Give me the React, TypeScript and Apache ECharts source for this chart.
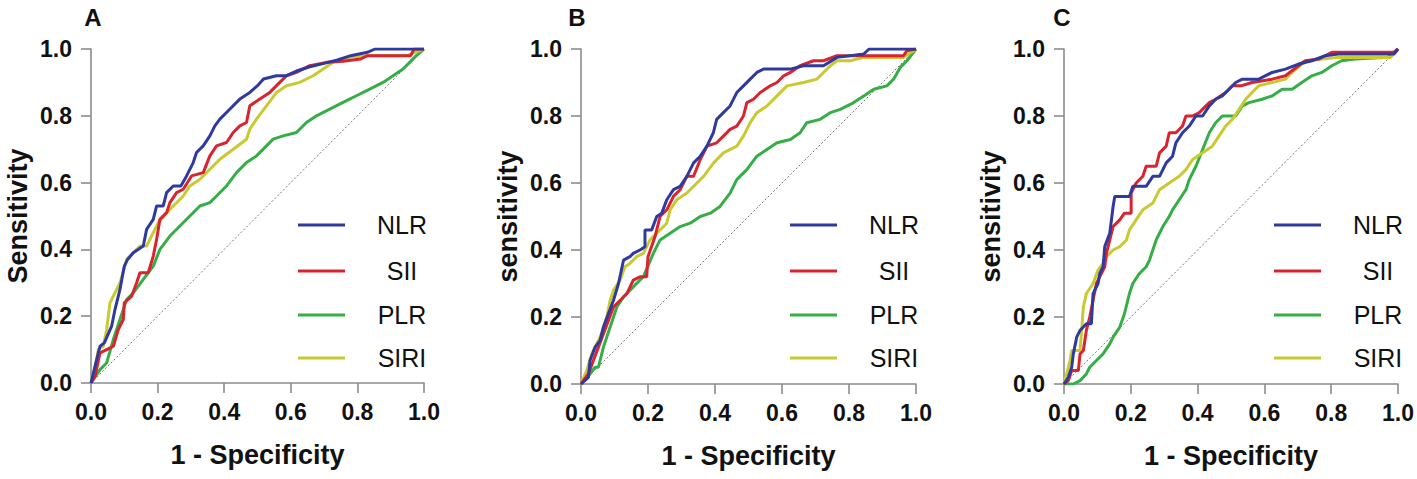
import React, { useEffect, useRef } from "react";
import * as echarts from "echarts";

const panelLetters = ["A", "B", "C"];
const yAxisTitles = ["Sensitivity", "sensitivity", "sensitivity"];
const xAxisTitle = "1 - Specificity";
const seriesNames = ["NLR", "SII", "PLR", "SIRI"];
const seriesColors = ["#2f3a9e", "#d9232f", "#35ae47", "#c9c931"];
const diagonal = [[0, 0], [1, 1]];

// Panel A
const nlrA = [[0,0],[0.017,0.07],[0.027,0.11],[0.04,0.12],[0.062,0.17],[0.072,0.22],[0.087,0.28],[0.1,0.35],[0.11,0.37],[0.127,0.39],[0.157,0.41],[0.167,0.46],[0.187,0.49],[0.197,0.53],[0.217,0.53],[0.227,0.57],[0.247,0.59],[0.27,0.59],[0.287,0.62],[0.307,0.66],[0.317,0.69],[0.337,0.71],[0.357,0.74],[0.372,0.77],[0.387,0.79],[0.407,0.81],[0.427,0.83],[0.447,0.85],[0.477,0.87],[0.5,0.89],[0.518,0.91],[0.557,0.92],[0.587,0.92],[0.617,0.934],[0.657,0.947],[0.7,0.957],[0.74,0.967],[0.78,0.98],[0.83,0.99],[0.853,1.0],[1,1]];
const siiA = [[0,0],[0.012,0.02],[0.027,0.09],[0.047,0.1],[0.067,0.11],[0.082,0.16],[0.097,0.19],[0.1,0.24],[0.122,0.26],[0.137,0.3],[0.147,0.33],[0.172,0.33],[0.187,0.38],[0.197,0.43],[0.207,0.49],[0.227,0.51],[0.237,0.54],[0.257,0.57],[0.277,0.58],[0.302,0.62],[0.337,0.63],[0.357,0.68],[0.377,0.71],[0.407,0.72],[0.427,0.75],[0.447,0.77],[0.467,0.78],[0.477,0.83],[0.507,0.85],[0.537,0.87],[0.567,0.9],[0.587,0.92],[0.617,0.93],[0.657,0.95],[0.707,0.96],[0.757,0.963],[0.81,0.97],[0.83,0.98],[0.96,0.98],[0.97,1.0],[1,1]];
const plrA = [[0,0],[0.027,0.04],[0.047,0.06],[0.067,0.13],[0.087,0.19],[0.107,0.25],[0.127,0.27],[0.157,0.31],[0.187,0.35],[0.207,0.4],[0.237,0.44],[0.267,0.47],[0.297,0.5],[0.327,0.53],[0.357,0.54],[0.377,0.56],[0.407,0.59],[0.437,0.63],[0.467,0.66],[0.497,0.68],[0.527,0.71],[0.547,0.73],[0.577,0.74],[0.617,0.75],[0.647,0.78],[0.677,0.8],[0.717,0.82],[0.757,0.84],[0.797,0.86],[0.837,0.88],[0.877,0.9],[0.907,0.92],[0.937,0.94],[0.957,0.96],[0.977,0.98],[1,1]];
const siriA = [[0,0],[0.017,0.07],[0.022,0.1],[0.037,0.11],[0.047,0.16],[0.057,0.24],[0.072,0.27],[0.087,0.3],[0.102,0.35],[0.107,0.37],[0.127,0.39],[0.147,0.41],[0.167,0.41],[0.187,0.45],[0.202,0.48],[0.227,0.51],[0.247,0.53],[0.277,0.56],[0.297,0.59],[0.327,0.61],[0.357,0.64],[0.387,0.67],[0.427,0.7],[0.467,0.73],[0.477,0.76],[0.497,0.79],[0.527,0.83],[0.557,0.87],[0.587,0.89],[0.627,0.9],[0.667,0.92],[0.697,0.94],[0.727,0.96],[0.777,0.975],[0.83,0.98],[0.948,0.98],[1,1]];

// Panel B
const nlrB = [[0,0],[0.022,0.02],[0.027,0.07],[0.042,0.11],[0.057,0.13],[0.067,0.17],[0.082,0.21],[0.097,0.25],[0.112,0.3],[0.127,0.37],[0.146,0.38],[0.156,0.39],[0.176,0.4],[0.191,0.41],[0.191,0.46],[0.211,0.46],[0.226,0.5],[0.241,0.51],[0.256,0.55],[0.276,0.58],[0.296,0.59],[0.316,0.62],[0.336,0.66],[0.356,0.68],[0.376,0.71],[0.395,0.75],[0.405,0.79],[0.425,0.81],[0.445,0.83],[0.465,0.87],[0.485,0.89],[0.505,0.91],[0.525,0.93],[0.545,0.94],[0.625,0.94],[0.664,0.95],[0.724,0.95],[0.764,0.975],[0.844,0.985],[0.86,1.0],[1,1]];
const siiB = [[0,0],[0.022,0.03],[0.037,0.07],[0.052,0.11],[0.067,0.15],[0.082,0.19],[0.097,0.23],[0.117,0.25],[0.137,0.27],[0.156,0.31],[0.176,0.32],[0.196,0.32],[0.2,0.38],[0.221,0.44],[0.236,0.5],[0.256,0.52],[0.276,0.56],[0.296,0.58],[0.316,0.62],[0.336,0.62],[0.356,0.67],[0.376,0.71],[0.405,0.72],[0.425,0.74],[0.445,0.76],[0.465,0.77],[0.485,0.8],[0.495,0.84],[0.515,0.85],[0.535,0.87],[0.565,0.89],[0.585,0.9],[0.605,0.92],[0.625,0.93],[0.654,0.95],[0.694,0.965],[0.724,0.965],[0.764,0.98],[0.963,0.98],[0.973,0.995],[1,1]];
const plrB = [[0,0],[0.027,0.03],[0.042,0.05],[0.052,0.05],[0.067,0.11],[0.087,0.17],[0.107,0.23],[0.127,0.26],[0.156,0.29],[0.186,0.32],[0.216,0.39],[0.236,0.43],[0.266,0.45],[0.296,0.47],[0.326,0.48],[0.356,0.5],[0.386,0.51],[0.415,0.53],[0.445,0.57],[0.465,0.61],[0.495,0.64],[0.525,0.68],[0.555,0.7],[0.585,0.72],[0.625,0.73],[0.654,0.75],[0.674,0.78],[0.714,0.79],[0.744,0.81],[0.774,0.82],[0.814,0.84],[0.844,0.86],[0.874,0.88],[0.913,0.89],[0.933,0.91],[0.953,0.945],[0.973,0.965],[1,1]];
const siriB = [[0,0],[0.017,0.04],[0.032,0.09],[0.057,0.14],[0.077,0.2],[0.087,0.25],[0.097,0.28],[0.117,0.31],[0.131,0.35],[0.146,0.36],[0.166,0.38],[0.186,0.39],[0.206,0.43],[0.226,0.45],[0.256,0.48],[0.266,0.52],[0.286,0.55],[0.316,0.57],[0.346,0.6],[0.366,0.62],[0.396,0.66],[0.425,0.69],[0.465,0.71],[0.485,0.74],[0.505,0.78],[0.525,0.81],[0.555,0.83],[0.585,0.86],[0.615,0.89],[0.664,0.9],[0.704,0.91],[0.724,0.93],[0.744,0.95],[0.764,0.965],[0.804,0.965],[0.844,0.975],[0.963,0.975],[1,1]];

// Panel C
const nlrC = [[0,0],[0.013,0.02],[0.023,0.05],[0.028,0.09],[0.038,0.14],[0.048,0.16],[0.058,0.17],[0.067,0.18],[0.082,0.18],[0.087,0.27],[0.102,0.3],[0.107,0.33],[0.117,0.35],[0.122,0.41],[0.137,0.45],[0.147,0.53],[0.152,0.56],[0.196,0.56],[0.206,0.59],[0.246,0.59],[0.266,0.62],[0.286,0.62],[0.306,0.66],[0.325,0.68],[0.335,0.72],[0.355,0.75],[0.375,0.77],[0.395,0.8],[0.415,0.8],[0.435,0.83],[0.454,0.85],[0.474,0.86],[0.494,0.88],[0.514,0.9],[0.534,0.91],[0.583,0.91],[0.623,0.93],[0.663,0.94],[0.702,0.955],[0.742,0.965],[0.782,0.98],[0.821,0.985],[0.988,0.985],[1,1]];
const siiC = [[0,0],[0.013,0.01],[0.023,0.04],[0.043,0.04],[0.048,0.09],[0.058,0.1],[0.067,0.16],[0.077,0.2],[0.087,0.25],[0.097,0.3],[0.107,0.32],[0.122,0.35],[0.127,0.39],[0.137,0.43],[0.147,0.47],[0.167,0.49],[0.181,0.51],[0.201,0.51],[0.201,0.57],[0.216,0.6],[0.236,0.62],[0.246,0.65],[0.276,0.65],[0.286,0.69],[0.306,0.71],[0.315,0.75],[0.335,0.75],[0.355,0.77],[0.365,0.8],[0.385,0.8],[0.405,0.81],[0.435,0.84],[0.454,0.85],[0.484,0.87],[0.504,0.89],[0.53,0.89],[0.563,0.9],[0.623,0.91],[0.663,0.92],[0.702,0.95],[0.722,0.965],[0.762,0.97],[0.802,0.99],[0.988,0.99],[1,1]];
const plrC = [[0,0],[0.028,0],[0.048,0.01],[0.067,0.03],[0.077,0.05],[0.097,0.07],[0.117,0.09],[0.137,0.12],[0.147,0.14],[0.167,0.17],[0.181,0.21],[0.196,0.27],[0.206,0.3],[0.226,0.33],[0.246,0.35],[0.256,0.37],[0.266,0.4],[0.276,0.43],[0.286,0.45],[0.296,0.47],[0.315,0.5],[0.325,0.52],[0.345,0.55],[0.365,0.58],[0.375,0.61],[0.395,0.65],[0.415,0.7],[0.435,0.75],[0.454,0.78],[0.474,0.8],[0.514,0.8],[0.534,0.83],[0.554,0.84],[0.593,0.85],[0.623,0.86],[0.653,0.88],[0.683,0.88],[0.712,0.9],[0.742,0.92],[0.772,0.93],[0.802,0.95],[0.831,0.965],[0.871,0.97],[0.97,0.975],[1,1]];
const siriC = [[0,0],[0.008,0.03],[0.018,0.07],[0.023,0.1],[0.048,0.1],[0.052,0.15],[0.058,0.23],[0.067,0.27],[0.087,0.3],[0.102,0.34],[0.117,0.36],[0.127,0.38],[0.147,0.4],[0.167,0.41],[0.187,0.43],[0.196,0.46],[0.216,0.49],[0.236,0.52],[0.266,0.54],[0.286,0.58],[0.315,0.6],[0.345,0.62],[0.365,0.64],[0.385,0.67],[0.415,0.69],[0.444,0.71],[0.464,0.74],[0.484,0.77],[0.504,0.79],[0.524,0.82],[0.544,0.85],[0.563,0.87],[0.583,0.89],[0.623,0.9],[0.663,0.91],[0.683,0.93],[0.712,0.955],[0.732,0.965],[0.772,0.97],[0.821,0.975],[0.978,0.975],[1,1]];

const panelData = [
  [nlrA, siiA, plrA, siriA],
  [nlrB, siiB, plrB, siriB],
  [nlrC, siiC, plrC, siriC],
];

const FONT = "'Liberation Sans', Arial, Helvetica, sans-serif";

export default function App() {
  const ref = useRef<HTMLDivElement>(null);
  useEffect(() => {
    if (!ref.current) return;
    const chart = echarts.init(ref.current, undefined, { renderer: "svg" });
    const grids = [
      { left: 91, top: 49, width: 333, height: 334 },
      { left: 581, top: 49, width: 335, height: 335 },
      { left: 1064, top: 49, width: 336, height: 335 },
    ];
    const axisCommon = {
      type: "value",
      min: 0,
      max: 1,
      interval: 0.2,
      splitLine: { show: false },
      axisLine: { show: true, lineStyle: { color: "#8c8c8c", width: 1.6 } },
      axisTick: { show: true, length: 10, lineStyle: { color: "#8c8c8c", width: 1.6 } },
      axisLabel: {
        color: "#111",
        fontFamily: FONT,
        fontWeight: "bold",
        fontSize: 23,
        formatter: (v: number) => v.toFixed(1),
      },
      nameTextStyle: { color: "#111", fontFamily: FONT, fontWeight: "bold", fontSize: 27 },
    };
    const xAxes = grids.map((_, i) => ({
      ...axisCommon,
      gridIndex: i,
      name: xAxisTitle,
      nameLocation: "middle",
      nameGap: 58,
      axisLabel: { ...axisCommon.axisLabel, margin: 17 },
    }));
    const yAxes = grids.map((_, i) => ({
      ...axisCommon,
      gridIndex: i,
      name: yAxisTitles[i],
      nameLocation: "middle",
      nameGap: 60,
      axisLabel: { ...axisCommon.axisLabel, margin: 19 },
    }));
    const series: any[] = [];
    const drawOrder = [2, 3, 1, 0];
    grids.forEach((_, i) => {
      series.push({
        type: "line",
        xAxisIndex: i,
        yAxisIndex: i,
        data: diagonal,
        symbol: "none",
        silent: true,
        lineStyle: { color: "#777", width: 1, type: [2, 2] },
      });
      drawOrder.forEach((k) => {
        series.push({
          type: "line",
          name: seriesNames[k],
          xAxisIndex: i,
          yAxisIndex: i,
          data: panelData[i][k],
          symbol: "none",
          lineStyle: { color: seriesColors[k], width: 3 },
          itemStyle: { color: seriesColors[k] },
        });
      });
    });
    const graphics: any[] = [];
    const letterX = [93, 577, 1062];
    const legendRows = [225, 271, 315, 358];
    grids.forEach((g, i) => {
      graphics.push({
        type: "text",
        x: letterX[i],
        y: 17,
        style: {
          text: panelLetters[i],
          fill: "#111",
          font: `bold 24px ${FONT}`,
          textAlign: "center",
          textVerticalAlign: "middle",
        },
      });
      const right = g.left + g.width;
      seriesNames.forEach((nm, k) => {
        graphics.push({
          type: "line",
          shape: { x1: right - 126, y1: legendRows[k], x2: right - 79, y2: legendRows[k] },
          style: { stroke: seriesColors[k], lineWidth: 3 },
        });
        graphics.push({
          type: "text",
          x: right - 22,
          y: legendRows[k],
          style: {
            text: nm,
            fill: "#111",
            font: `25px ${FONT}`,
            textAlign: "center",
            textVerticalAlign: "middle",
          },
        });
      });
    });
    chart.setOption({
      animation: false,
      backgroundColor: "#fff",
      grid: grids,
      xAxis: xAxes,
      yAxis: yAxes,
      series,
      graphic: graphics,
    });
    return () => chart.dispose();
  }, []);
  return (
    <div
      ref={ref}
      style={{ position: "absolute", left: 0, top: 0, width: 1417, height: 479 }}
    />
  );
}
